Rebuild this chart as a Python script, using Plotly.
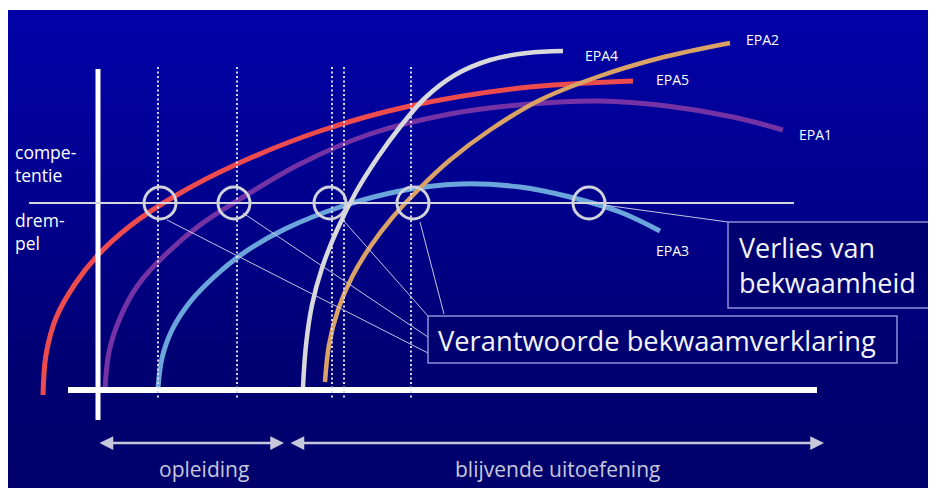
import base64
import plotly.graph_objects as go

# The page puts the figure 8px from the top-left corner of the window,
# so the figure is 8px smaller and its axes start at 8 (screen pixels).
OFF = 8
W, H = 936, 488

# ---- curve data (picture pixel coordinates: x to the right, y downwards) ----
epa5_x = [43, 46, 56, 75, 98, 130, 175, 237, 320, 410, 520, 633]
epa5_y = [395, 355, 318, 284, 255, 226, 196, 164, 131, 106, 88, 81]

epa1_x = [105, 109, 120, 138, 165, 200, 245, 300, 370, 450, 530, 600, 667, 733, 783]
epa1_y = [390, 352, 318, 285, 255, 225, 196, 164, 134, 114, 104, 101, 106, 117, 130]

epa3_x = [158, 162, 172, 190, 214, 245, 285, 340, 400, 460, 520, 570, 620, 660]
epa3_y = [388, 358, 330, 302, 277, 252, 229, 207, 191, 184, 187, 197, 212, 231]

epa2_x = [325, 329, 338, 352, 370, 392, 418, 450, 490, 540, 600, 660, 730]
epa2_y = [382, 345, 310, 277, 247, 218, 190, 160, 130, 100, 76, 58, 43]

epa4_x = [303, 306, 312, 322, 337, 356, 378, 400, 425, 455, 490, 527, 563]
epa4_y = [387, 345, 305, 268, 230, 192, 157, 127, 98, 75, 60, 53, 51]

epa_names = ["EPA5", "EPA1", "EPA3", "EPA2", "EPA4"]
label_x = [654, 797, 654, 744, 583]
label_y = [79, 134, 250, 39, 55]

threshold_y = 203
threshold_x = [29, 794]
milestone_x = [158, 237, 332, 344, 411]
milestone_y = [67, 398]
circle_x = [160, 234, 330, 413, 589]

# connector lines (start x, start y, end x, end y)
conn_x0 = [167, 243, 343, 420, 604]
conn_y0 = [220, 213, 220, 222, 205]
conn_x1 = [428, 428, 428, 444, 728]
conn_y1 = [353, 337, 316, 314, 222]

axis_v_x, axis_v_y = 98, [69, 420]
axis_h_y, axis_h_x = 390, [68, 817]

arrow_y = 443
arrow1_x = [98, 284]
arrow2_x = [289, 824]

box1 = [728, 222, 940, 308]
box2 = [428, 316, 897, 363]

# ---- figure ----
svg = ('<svg xmlns="http://www.w3.org/2000/svg" width="100" height="100" preserveAspectRatio="none">'
       '<defs><linearGradient id="g" x1="0" y1="0" x2="0" y2="1">'
       '<stop offset="0" stop-color="#0202A8"/>'
       '<stop offset="0.45" stop-color="#00008A"/>'
       '<stop offset="0.75" stop-color="#000072"/>'
       '<stop offset="1" stop-color="#00006C"/>'
       '</linearGradient></defs><rect width="100" height="100" fill="url(#g)"/></svg>')
src = "data:image/svg+xml;base64," + base64.b64encode(svg.encode()).decode()

fig = go.Figure()

curves = [
    (epa1_x, epa1_y, "#7432A4", 5),
    (epa5_x, epa5_y, "#EE4B4E", 5),
    (epa3_x, epa3_y, "#6AA6DC", 5),
    (epa2_x, epa2_y, "#DBA265", 4.5),
    (epa4_x, epa4_y, "#D9D9DC", 4.5),
]
for xs, ys, col, w in curves:
    fig.add_trace(go.Scatter(x=xs, y=ys, mode="lines",
                             line=dict(color=col, width=w, shape="spline", smoothing=1.0),
                             hoverinfo="skip", showlegend=False))

shapes = []
# axes
shapes.append(dict(type="line", x0=axis_v_x, x1=axis_v_x, y0=axis_v_y[0], y1=axis_v_y[1],
                   line=dict(color="white", width=5)))
shapes.append(dict(type="line", x0=axis_h_x[0], x1=axis_h_x[1], y0=axis_h_y, y1=axis_h_y,
                   line=dict(color="white", width=6)))
# threshold
shapes.append(dict(type="line", x0=threshold_x[0], x1=threshold_x[1], y0=threshold_y, y1=threshold_y,
                   line=dict(color="#D6D6E2", width=2)))
# milestones
for mx in milestone_x:
    shapes.append(dict(type="line", x0=mx, x1=mx, y0=milestone_y[0], y1=milestone_y[1],
                       line=dict(color="#D8D8F0", width=2, dash="2px,2.5px")))
# connectors
for a, b, c, d in zip(conn_x0, conn_y0, conn_x1, conn_y1):
    shapes.append(dict(type="line", x0=a, y0=b, x1=c, y1=d,
                       line=dict(color="#C4C4E4", width=1)))
# circles
r = 16
for cx in circle_x:
    shapes.append(dict(type="circle", x0=cx - r, x1=cx + r, y0=threshold_y - r, y1=threshold_y + r,
                       line=dict(color="#D2D2DA", width=3)))
# boxes
for bx in (box1, box2):
    shapes.append(dict(type="rect", x0=bx[0], y0=bx[1], x1=bx[2], y1=bx[3],
                       fillcolor="#000070", line=dict(color="#8E8ED6", width=1.5)))

ann = []
font_family = "Open Sans"
for n, lx, ly in zip(epa_names, label_x, label_y):
    ann.append(dict(x=lx, y=ly, text=n, showarrow=False, xanchor="left", yanchor="middle",
                    font=dict(family=font_family, size=14, color="white")))
ann.append(dict(x=13, y=163, text="compe-<br>tentie", showarrow=False, xanchor="left", yanchor="middle",
                align="left", font=dict(family=font_family, size=17.5, color="white")))
ann.append(dict(x=13, y=231, text="drem-<br>pel", showarrow=False, xanchor="left", yanchor="middle",
                align="left", font=dict(family=font_family, size=17.5, color="white")))
ann.append(dict(x=737, y=265, text="Verlies van<br>bekwaamheid", showarrow=False, xanchor="left",
                yanchor="middle", align="left", font=dict(family=font_family, size=27, color="#F4F4FA")))
ann.append(dict(x=436, y=340, text="Verantwoorde bekwaamverklaring", showarrow=False, xanchor="left",
                yanchor="middle", font=dict(family=font_family, size=27.3, color="#F4F4FA")))
# bottom arrows
for ax_ in (arrow1_x, arrow2_x):
    ann.append(dict(x=ax_[1], y=arrow_y, ax=ax_[0], ay=arrow_y, axref="x", ayref="y", text="",
                    showarrow=True, arrowside="end+start", arrowhead=2, arrowsize=1.1,
                    arrowwidth=2.5, arrowcolor="#C8C8DC"))
ann.append(dict(x=204, y=469, text="opleiding", showarrow=False,
                font=dict(family=font_family, size=21, color="#C8C8DC")))
ann.append(dict(x=557, y=469, text="blijvende uitoefening", showarrow=False,
                font=dict(family=font_family, size=21, color="#C8C8DC")))

fig.update_layout(
    width=W - OFF, height=H - OFF, margin=dict(l=0, r=0, t=0, b=0),
    paper_bgcolor="white", plot_bgcolor="rgba(0,0,0,0)",
    xaxis=dict(range=[OFF, W], visible=False, fixedrange=True),
    yaxis=dict(range=[H, OFF], visible=False, fixedrange=True),
    shapes=shapes, annotations=ann,
    images=[dict(source=src, xref="x", yref="y", x=OFF, y=10, sizex=W - OFF, sizey=H - 10,
                 xanchor="left", yanchor="top", sizing="stretch", layer="below")],
    showlegend=False,
)

fig.write_html("out.html")
